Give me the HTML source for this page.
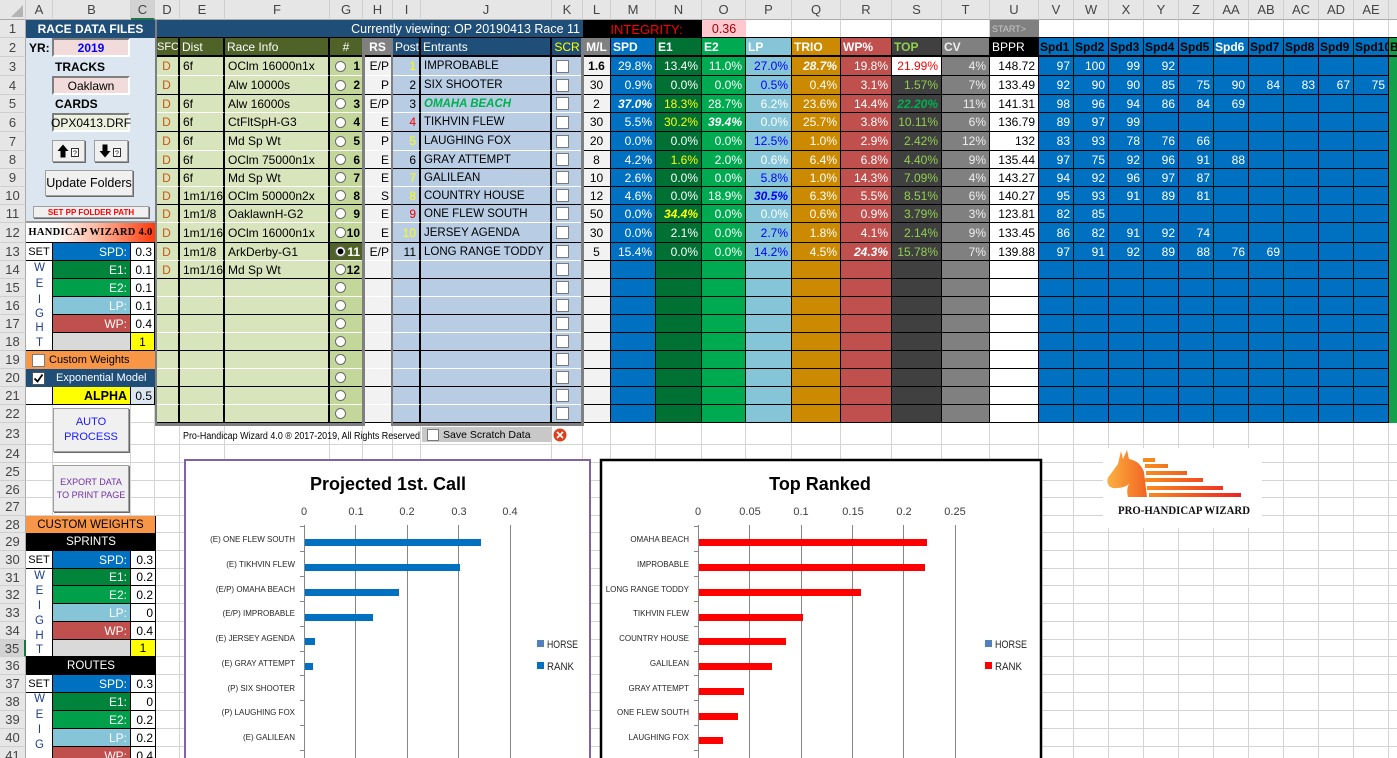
<!DOCTYPE html>
<html><head><meta charset="utf-8"><title>Pro-Handicap Wizard</title>
<style>
*{margin:0;padding:0;box-sizing:border-box}
html,body{width:1397px;height:758px;overflow:hidden}
body{position:relative;background:#fff;font-family:"Liberation Sans",Arial,sans-serif;font-size:12px;color:#000}
.a{position:absolute;white-space:nowrap;overflow:hidden}
.f{display:flex;align-items:center}
.ch{position:absolute;top:0;height:20px;background:#e6e6e6;color:#444;font-size:13px;display:flex;align-items:center;justify-content:center;border-right:1px solid #cfcfcf;border-bottom:1px solid #ababab;overflow:hidden}
.rn{position:absolute;left:0;width:26px;background:#e6e6e6;color:#444;font-size:13px;display:flex;align-items:center;justify-content:center;border-bottom:1px solid #cfcfcf;border-right:1px solid #ababab}
.r{position:absolute;left:155px;display:grid;grid-template-columns:25px 45px 105px 33px 30px 28px 131px 31px 28px 45px 46px 44px 46px 49px 51px 50px 48px 49px repeat(10,35px) 8px;grid-template-rows:100%}
.r>c{display:flex;align-items:center;overflow:hidden;white-space:nowrap;padding:0 3px;border-right:1px solid #000;border-bottom:1px solid #000;justify-content:flex-end;color:#fff;background:#0070c0;min-width:0}
.r>c:nth-child(1){background:#d8e4bc;color:#c55a11;justify-content:center;border-right-width:2px}
.r>c:nth-child(2),.r>c:nth-child(3){background:#d8e4bc;color:#000;justify-content:flex-start;border-right-width:2px}
.r>c:nth-child(4){background:#c4d79b;color:#000;font-weight:bold;justify-content:space-between;padding:0 2px 0 5px}
.r>c:nth-child(5){background:#f2f2f2;color:#000}
.r>c:nth-child(6){background:#b8cce4;color:#000;border-right-width:2px}
.r>c:nth-child(7){background:#b8cce4;color:#000;justify-content:flex-start;border-right-width:2px;font-size:11.5px}
.r>c:nth-child(8){background:#b8cce4;justify-content:flex-start;padding-left:4px}
.r>c:nth-child(9){background:#f2f2f2;color:#000;justify-content:center}
.r>c:nth-child(11){background:#007033}
.r>c:nth-child(12){background:#00aa50}
.r>c:nth-child(13){background:#86c5d8;color:#0000ff}
.r>c:nth-child(14){background:#cc8a00}
.r>c:nth-child(15){background:#c0504d}
.r>c:nth-child(16){background:#404040;color:#92d050}
.r>c:nth-child(17){background:#808080;color:#eee}
.r>c:nth-child(18){background:#fff;color:#000}
.r>c:nth-child(29){background:#12a04a;border:0;padding:0}
.o>c:nth-child(-n+8){border-bottom-color:#fff}
.r>c.bi{font-weight:bold;font-style:italic}
.r.h>c{color:#fff;justify-content:flex-start;border-top:1px solid #000;border-bottom:2px solid #000;padding:0 2px;font-weight:bold;background:#0070c0}
.h>c:nth-child(-n+4){background:#4f6228;font-weight:normal}
.h>c:nth-child(1){font-size:11px;padding:0 0 0 2px;justify-content:flex-start}
.h>c:nth-child(4){justify-content:center}
.h>c:nth-child(5),.h>c:nth-child(9),.h>c:nth-child(17){background:#808080;justify-content:center}
.h>c:nth-child(17){justify-content:flex-start;color:#eee}
.h>c:nth-child(6),.h>c:nth-child(7),.h>c:nth-child(8){background:#1f4e79;font-weight:normal;font-size:12px}
.h>c:nth-child(8){color:#ff0;justify-content:center}
.h>c:nth-child(11){background:#007033}
.h>c:nth-child(12){background:#00aa50}
.h>c:nth-child(13){background:#86c5d8}
.h>c:nth-child(14){background:#cc8a00}
.h>c:nth-child(15){background:#c0504d}
.h>c:nth-child(16){background:#404040;color:#92d050}
.h>c:nth-child(18){background:#000;font-weight:normal}
.h>c:nth-child(n+19){color:#000;padding:0 1px}
.h>c:nth-child(24){color:#fff}
.h>c:nth-child(29){background:#12a04a}
.rd{display:inline-block;width:11px;height:11px;border-radius:50%;background:#fff;border:1px solid #6a6a6a;flex:none}
.rd.on{background:radial-gradient(circle,#000 0,#000 2.6px,#fff 3.2px)}
.cb{display:inline-block;width:13px;height:13px;background:#fff;border:1px solid #7a7a7a;flex:none}
.box{position:absolute;display:flex;align-items:center;justify-content:center;border-top:2px solid #7f7f7f;border-left:2px solid #7f7f7f;border-right:2px solid #fff;border-bottom:2px solid #fff}
.btn{position:absolute;background:#f0f0f0;border:1px solid #a0a0a0;box-shadow:1px 1px 0 #6a6a6a;display:flex;align-items:center;justify-content:center;flex-direction:column;white-space:nowrap;text-align:center}
.wc{position:absolute;display:flex;align-items:center;justify-content:flex-end;padding:0 3px;border-right:1px solid #000;border-bottom:1px solid #000;white-space:nowrap;color:#fff}
.lt{position:absolute;left:26px;width:27px;text-align:center;color:#1f3f8f;font-size:11.5px;line-height:14px}
.g{position:absolute;background:#7f7f7f}
</style></head><body>

<svg class="a" style="left:0;top:0" width="1397" height="758"><path fill="none" stroke="#d4d4d4" stroke-width="1" d="M25.5 20V758M52.5 20V758M130.5 20V758M154.5 20V758M179.5 20V758M224.5 20V758M329.5 20V758M362.5 20V758M392.5 20V758M420.5 20V758M551.5 20V758M582.5 20V758M610.5 20V758M655.5 20V758M701.5 20V758M745.5 20V758M791.5 20V758M840.5 20V758M891.5 20V758M941.5 20V758M989.5 20V758M1038.5 20V758M1073.5 20V758M1108.5 20V758M1143.5 20V758M1178.5 20V758M1213.5 20V758M1248.5 20V758M1283.5 20V758M1318.5 20V758M1353.5 20V758M1388.5 20V758M26 37.5H1397M26 56.5H1397M26 75.5H1397M26 94.5H1397M26 112.5H1397M26 131.5H1397M26 150.5H1397M26 168.5H1397M26 186.5H1397M26 204.5H1397M26 222.5H1397M26 242.5H1397M26 260.5H1397M26 278.5H1397M26 296.5H1397M26 314.5H1397M26 332.5H1397M26 350.5H1397M26 368.5H1397M26 386.5H1397M26 404.5H1397M26 422.5H1397M26 444.5H1397M26 462.5H1397M26 480.5H1397M26 497.5H1397M26 515.5H1397M26 532.5H1397M26 550.5H1397M26 568.5H1397M26 585.5H1397M26 603.5H1397M26 621.5H1397M26 639.5H1397M26 656.5H1397M26 674.5H1397M26 692.5H1397M26 710.5H1397M26 728.5H1397M26 746.5H1397"/></svg>

<!-- column headers -->
<div class="ch" style="left:0;width:26px"><svg width="12" height="12" style="position:absolute;right:2px;bottom:2px"><path d="M12 0V12H0z" fill="#b4b4b4"/></svg></div>
<div class="ch" style="left:26px;width:27px">A</div>
<div class="ch" style="left:53px;width:78px">B</div>
<div class="ch" style="left:131px;width:24px;background:#d2d2d2;border-bottom:2px solid #217346">C</div>
<div class="ch" style="left:155px;width:25px">D</div>
<div class="ch" style="left:180px;width:45px">E</div>
<div class="ch" style="left:225px;width:105px">F</div>
<div class="ch" style="left:330px;width:33px">G</div>
<div class="ch" style="left:363px;width:30px">H</div>
<div class="ch" style="left:393px;width:28px">I</div>
<div class="ch" style="left:421px;width:131px">J</div>
<div class="ch" style="left:552px;width:31px">K</div>
<div class="ch" style="left:583px;width:28px">L</div>
<div class="ch" style="left:611px;width:45px">M</div>
<div class="ch" style="left:656px;width:46px">N</div>
<div class="ch" style="left:702px;width:44px">O</div>
<div class="ch" style="left:746px;width:46px">P</div>
<div class="ch" style="left:792px;width:49px">Q</div>
<div class="ch" style="left:841px;width:51px">R</div>
<div class="ch" style="left:892px;width:50px">S</div>
<div class="ch" style="left:942px;width:48px">T</div>
<div class="ch" style="left:990px;width:49px">U</div>
<div class="ch" style="left:1039px;width:35px">V</div>
<div class="ch" style="left:1074px;width:35px">W</div>
<div class="ch" style="left:1109px;width:35px">X</div>
<div class="ch" style="left:1144px;width:35px">Y</div>
<div class="ch" style="left:1179px;width:35px">Z</div>
<div class="ch" style="left:1214px;width:35px">AA</div>
<div class="ch" style="left:1249px;width:35px">AB</div>
<div class="ch" style="left:1284px;width:35px">AC</div>
<div class="ch" style="left:1319px;width:35px">AD</div>
<div class="ch" style="left:1354px;width:35px">AE</div>
<div class="ch" style="left:1389px;width:8px;border-right:0"></div>

<!-- row numbers -->
<div class="rn" style="top:20px;height:18px">1</div>
<div class="rn" style="top:38px;height:19px">2</div>
<div class="rn" style="top:57px;height:19px">3</div>
<div class="rn" style="top:76px;height:19px">4</div>
<div class="rn" style="top:95px;height:18px">5</div>
<div class="rn" style="top:113px;height:19px">6</div>
<div class="rn" style="top:132px;height:19px">7</div>
<div class="rn" style="top:151px;height:18px">8</div>
<div class="rn" style="top:169px;height:18px">9</div>
<div class="rn" style="top:187px;height:18px">10</div>
<div class="rn" style="top:205px;height:18px">11</div>
<div class="rn" style="top:223px;height:20px">12</div>
<div class="rn" style="top:243px;height:18px">13</div>
<div class="rn" style="top:261px;height:18px">14</div>
<div class="rn" style="top:279px;height:18px">15</div>
<div class="rn" style="top:297px;height:18px">16</div>
<div class="rn" style="top:315px;height:18px">17</div>
<div class="rn" style="top:333px;height:18px">18</div>
<div class="rn" style="top:351px;height:18px">19</div>
<div class="rn" style="top:369px;height:18px">20</div>
<div class="rn" style="top:387px;height:18px">21</div>
<div class="rn" style="top:405px;height:18px">22</div>
<div class="rn" style="top:423px;height:22px">23</div>
<div class="rn" style="top:445px;height:18px">24</div>
<div class="rn" style="top:463px;height:18px">25</div>
<div class="rn" style="top:481px;height:17px">26</div>
<div class="rn" style="top:498px;height:18px">27</div>
<div class="rn" style="top:516px;height:17px">28</div>
<div class="rn" style="top:533px;height:18px">29</div>
<div class="rn" style="top:551px;height:18px">30</div>
<div class="rn" style="top:569px;height:17px">31</div>
<div class="rn" style="top:586px;height:18px">32</div>
<div class="rn" style="top:604px;height:18px">33</div>
<div class="rn" style="top:622px;height:18px">34</div>
<div class="rn" style="top:640px;height:17px;background:#d2d2d2;border-right:2px solid #217346">35</div>
<div class="rn" style="top:657px;height:18px">36</div>
<div class="rn" style="top:675px;height:18px">37</div>
<div class="rn" style="top:693px;height:18px">38</div>
<div class="rn" style="top:711px;height:18px">39</div>
<div class="rn" style="top:729px;height:18px">40</div>
<div class="rn" style="top:747px;height:18px">41</div>

<!-- left panel -->
<div class="a" style="left:26px;top:20px;width:129px;height:202px;background:#dce6f1"></div>
<div class="a f" style="left:26px;top:20px;width:129px;height:18px;background:#1f4e79;color:#fff;font-weight:bold;justify-content:center">RACE DATA FILES</div>
<div class="a f" style="left:29px;top:38px;height:19px;font-weight:bold">YR:</div>
<div class="box" style="left:52px;top:38px;width:78px;height:19px;background:#f2dcdb;color:#0000ff;font-weight:bold">2019</div>
<div class="a f" style="left:55px;top:57px;height:19px;font-weight:bold">TRACKS</div>
<div class="box" style="left:52px;top:76px;width:78px;height:19px;background:#f2dcdb">Oaklawn</div>
<div class="a f" style="left:55px;top:95px;height:18px;font-weight:bold">CARDS</div>
<div class="box" style="left:52px;top:113px;width:78px;height:19px;background:#ebf1de">OPX0413.DRF</div>
<div class="btn" style="left:52px;top:140px;width:33px;height:22px"><svg width="24" height="14"><path d="M6 0.5l5.5 6.5H8.5v6.5h-5V7H0.5z" fill="#000"/><rect x="14.5" y="4.5" width="7" height="8" fill="#fff" stroke="#333"/><text x="18" y="11.5" font-size="7" text-anchor="middle" font-family="Liberation Sans, sans-serif">?</text></svg></div>
<div class="btn" style="left:94px;top:140px;width:34px;height:22px"><svg width="24" height="14"><path d="M6 13.5l5.5-6.5H8.5V0.5h-5V7H0.5z" fill="#000"/><rect x="14.5" y="4.5" width="7" height="8" fill="#fff" stroke="#333"/><text x="18" y="11.5" font-size="7" text-anchor="middle" font-family="Liberation Sans, sans-serif">?</text></svg></div>
<div class="btn" style="left:45px;top:170px;width:88px;height:26px;font-size:12.5px">Update Folders</div>
<div class="btn" style="left:33px;top:206px;width:116px;height:12px;font-size:8px;font-weight:bold;color:#ff0000">SET PP FOLDER PATH</div>
<div class="a" style="left:26px;top:221px;width:129px;height:2px;background:#9a9a9a"></div>
<div class="a f" style="left:26px;top:223px;width:129px;height:20px;background:linear-gradient(90deg,#fff 0%,#fff 22%,#ffb8a0 55%,#ff3a0a 100%);justify-content:center;font-family:'Liberation Serif',serif;font-weight:bold;font-size:10.5px;letter-spacing:0.3px;border-bottom:1px solid #000">HANDICAP WIZARD 4.0</div>

<!-- weights table 1 -->
<div class="wc" style="left:26px;top:243px;width:27px;height:18px;background:#fff;color:#000;justify-content:center;font-size:11px;padding:0">SET</div>
<div class="wc" style="left:26px;top:261px;width:27px;height:90px;background:#fff"></div>
<div class="lt" style="top:261px">W</div><div class="lt" style="top:277px">E</div><div class="lt" style="top:293px">I</div><div class="lt" style="top:307px">G</div><div class="lt" style="top:321px">H</div><div class="lt" style="top:336px">T</div>
<div class="wc" style="left:53px;top:243px;width:78px;height:18px;background:#0070c0">SPD:</div>
<div class="wc" style="left:53px;top:261px;width:78px;height:18px;background:#00843c">E1:</div>
<div class="wc" style="left:53px;top:279px;width:78px;height:18px;background:#00a04b">E2:</div>
<div class="wc" style="left:53px;top:297px;width:78px;height:18px;background:#86c5d8">LP:</div>
<div class="wc" style="left:53px;top:315px;width:78px;height:18px;background:#c0504d">WP:</div>
<div class="wc" style="left:53px;top:333px;width:78px;height:18px;background:#d9d9d9"></div>
<div class="wc" style="left:131px;top:243px;width:24px;height:18px;background:#fff;color:#000;padding:0 2px">0.3</div>
<div class="wc" style="left:131px;top:261px;width:24px;height:18px;background:#fff;color:#000;padding:0 2px">0.1</div>
<div class="wc" style="left:131px;top:279px;width:24px;height:18px;background:#fff;color:#000;padding:0 2px">0.1</div>
<div class="wc" style="left:131px;top:297px;width:24px;height:18px;background:#fff;color:#000;padding:0 2px">0.1</div>
<div class="wc" style="left:131px;top:315px;width:24px;height:18px;background:#fff;color:#000;padding:0 2px">0.4</div>
<div class="wc" style="left:131px;top:333px;width:24px;height:18px;background:#ff0;color:#000;justify-content:center;padding:0">1</div>
<div class="a f" style="left:26px;top:351px;width:129px;height:18px;background:#f79646;padding-left:6px;font-size:11px"><i class="cb" style="margin-right:4px"></i>Custom Weights</div>
<div class="a f" style="left:26px;top:369px;width:129px;height:18px;background:#1f4e79;color:#fff;padding-left:6px;font-size:11px"><svg width="13" height="13"><rect x=".5" y=".5" width="12" height="12" fill="#fff" stroke="#555"/><path d="M2.5 6.5l3 3 5-7" stroke="#000" stroke-width="1.8" fill="none"/></svg><span style="margin-left:11px">Exponential Model</span></div>
<div class="wc" style="left:26px;top:387px;width:27px;height:18px;background:#fff"></div>
<div class="wc" style="left:53px;top:387px;width:78px;height:18px;background:#ff0;color:#000;font-weight:bold;font-size:12.5px">ALPHA</div>
<div class="wc" style="left:131px;top:387px;width:24px;height:18px;background:#dce6f1;color:#000;padding:0 2px">0.5</div>

<div class="btn" style="left:53px;top:408px;width:76px;height:44px;color:#1a1aff;font-size:11px;line-height:15px">AUTO<br>PROCESS</div>
<div class="btn" style="left:53px;top:465px;width:76px;height:47px;color:#7030a0;font-size:9px;line-height:13px">EXPORT DATA<br>TO PRINT PAGE</div>

<!-- custom weights -->
<div class="a f" style="left:26px;top:516px;width:130px;height:17px;background:#f79646;justify-content:center;font-size:11.5px;border-right:1px solid #000">CUSTOM WEIGHTS</div>
<div class="a f" style="left:26px;top:533px;width:130px;height:18px;background:#000;color:#fff;justify-content:center;font-size:11.5px">SPRINTS</div>
<div class="wc" style="left:26px;top:551px;width:27px;height:18px;background:#fff;color:#000;justify-content:center;font-size:11px;padding:0">SET</div>
<div class="wc" style="left:26px;top:569px;width:27px;height:88px;background:#fff"></div>
<div class="lt" style="top:569px">W</div><div class="lt" style="top:584px">E</div><div class="lt" style="top:599px">I</div><div class="lt" style="top:614px">G</div><div class="lt" style="top:629px">H</div><div class="lt" style="top:643px">T</div>
<div class="wc" style="left:53px;top:551px;width:78px;height:18px;background:#0070c0">SPD:</div>
<div class="wc" style="left:53px;top:569px;width:78px;height:17px;background:#00843c">E1:</div>
<div class="wc" style="left:53px;top:586px;width:78px;height:18px;background:#00a04b">E2:</div>
<div class="wc" style="left:53px;top:604px;width:78px;height:18px;background:#86c5d8">LP:</div>
<div class="wc" style="left:53px;top:622px;width:78px;height:18px;background:#c0504d">WP:</div>
<div class="wc" style="left:53px;top:640px;width:78px;height:17px;background:#d9d9d9"></div>
<div class="wc" style="left:131px;top:551px;width:25px;height:18px;background:#fff;color:#000;padding:0 2px">0.3</div>
<div class="wc" style="left:131px;top:569px;width:25px;height:17px;background:#fff;color:#000;padding:0 2px">0.2</div>
<div class="wc" style="left:131px;top:586px;width:25px;height:18px;background:#fff;color:#000;padding:0 2px">0.2</div>
<div class="wc" style="left:131px;top:604px;width:25px;height:18px;background:#fff;color:#000;padding:0 2px">0</div>
<div class="wc" style="left:131px;top:622px;width:25px;height:18px;background:#fff;color:#000;padding:0 2px">0.4</div>
<div class="wc" style="left:131px;top:640px;width:25px;height:17px;background:#ff0;color:#000;justify-content:center;padding:0">1</div>
<div class="a f" style="left:26px;top:657px;width:130px;height:18px;background:#000;color:#fff;justify-content:center;font-size:11.5px">ROUTES</div>
<div class="wc" style="left:26px;top:675px;width:27px;height:18px;background:#fff;color:#000;justify-content:center;font-size:11px;padding:0">SET</div>
<div class="wc" style="left:26px;top:693px;width:27px;height:70px;background:#fff"></div>
<div class="lt" style="top:692px">W</div><div class="lt" style="top:708px">E</div><div class="lt" style="top:723px">I</div><div class="lt" style="top:738px">G</div>
<div class="wc" style="left:53px;top:675px;width:78px;height:18px;background:#0070c0">SPD:</div>
<div class="wc" style="left:53px;top:693px;width:78px;height:18px;background:#00843c">E1:</div>
<div class="wc" style="left:53px;top:711px;width:78px;height:18px;background:#00a04b">E2:</div>
<div class="wc" style="left:53px;top:729px;width:78px;height:18px;background:#86c5d8">LP:</div>
<div class="wc" style="left:53px;top:747px;width:78px;height:18px;background:#c0504d">WP:</div>
<div class="wc" style="left:131px;top:675px;width:25px;height:18px;background:#fff;color:#000;padding:0 2px">0.3</div>
<div class="wc" style="left:131px;top:693px;width:25px;height:18px;background:#fff;color:#000;padding:0 2px">0</div>
<div class="wc" style="left:131px;top:711px;width:25px;height:18px;background:#fff;color:#000;padding:0 2px">0.2</div>
<div class="wc" style="left:131px;top:729px;width:25px;height:18px;background:#fff;color:#000;padding:0 2px">0.2</div>
<div class="wc" style="left:131px;top:747px;width:25px;height:18px;background:#fff;color:#000;padding:0 2px">0.4</div>

<!-- row 1 -->
<div class="a f" style="left:157px;top:20px;width:426px;height:18px;background:#1f4e79;color:#fff;justify-content:flex-end;padding-right:3px;font-size:12.5px">Currently viewing: OP 20190413 Race 11</div>
<div class="a f" style="left:583px;top:20px;width:119px;height:18px;background:#000;color:#ff0000;justify-content:center;font-size:13px;padding-left:8px">INTEGRITY:</div>
<div class="a f" style="left:702px;top:20px;width:44px;height:18px;background:#ffc7ce;color:#9c0006;justify-content:center;font-size:12.5px">0.36</div>
<div class="a f" style="left:990px;top:20px;width:49px;height:18px;background:#808080;color:#c8c8c8;font-size:9px;padding-left:2px">START&gt;</div>

<!-- header row 2 -->
<div class="r h" style="top:37px;height:20px"><c>SFC</c><c>Dist</c><c>Race Info</c><c>#</c><c>RS</c><c>Post</c><c>Entrants</c><c>SCR</c><c>M/L</c><c>SPD</c><c>E1</c><c>E2</c><c>LP</c><c>TRIO</c><c>WP%</c><c>TOP</c><c>CV</c><c>BPPR</c><c>Spd1</c><c>Spd2</c><c>Spd3</c><c>Spd4</c><c>Spd5</c><c>Spd6</c><c>Spd7</c><c>Spd8</c><c>Spd9</c><c>Spd10</c><c>B</c></div>

<!-- data rows -->
<div class="r o" style="top:57px;height:19px"><c>D</c><c>6f</c><c>OClm 16000n1x</c><c><i class="rd"></i>1</c><c>E/P</c><c style="color:#ff0">1</c><c>IMPROBABLE</c><c><i class="cb"></i></c><c style="font-weight:bold">1.6</c><c>29.8%</c><c>13.4%</c><c>11.0%</c><c>27.0%</c><c class="bi">28.7%</c><c>19.8%</c><c style="background:#fff;color:#f00">21.99%</c><c>4%</c><c>148.72</c><c>97</c><c>100</c><c>99</c><c>92</c><c></c><c></c><c></c><c></c><c></c><c></c><c></c></div>
<div class="r" style="top:76px;height:19px"><c>D</c><c></c><c>Alw 10000s</c><c><i class="rd"></i>2</c><c>P</c><c>2</c><c>SIX SHOOTER</c><c><i class="cb"></i></c><c>30</c><c>0.9%</c><c>0.0%</c><c>0.0%</c><c>0.5%</c><c>0.4%</c><c>3.1%</c><c>1.57%</c><c>7%</c><c>133.49</c><c>92</c><c>90</c><c>90</c><c>85</c><c>75</c><c>90</c><c>84</c><c>83</c><c>67</c><c>75</c><c></c></div>
<div class="r o" style="top:95px;height:18px"><c>D</c><c>6f</c><c>Alw 16000s</c><c><i class="rd"></i>3</c><c>E/P</c><c>3</c><c class="bi" style="color:#00b050">OMAHA BEACH</c><c><i class="cb"></i></c><c>2</c><c class="bi">37.0%</c><c style="color:#ff0">18.3%</c><c>28.7%</c><c style="color:#fff">6.2%</c><c>23.6%</c><c>14.4%</c><c class="bi" style="color:#00b050">22.20%</c><c>11%</c><c>141.31</c><c>98</c><c>96</c><c>94</c><c>86</c><c>84</c><c>69</c><c></c><c></c><c></c><c></c><c></c></div>
<div class="r" style="top:113px;height:19px"><c>D</c><c>6f</c><c>CtFltSpH-G3</c><c><i class="rd"></i>4</c><c>E</c><c style="color:#f00">4</c><c>TIKHVIN FLEW</c><c><i class="cb"></i></c><c>30</c><c>5.5%</c><c style="color:#ff0">30.2%</c><c class="bi">39.4%</c><c style="color:#fff">0.0%</c><c>25.7%</c><c>3.8%</c><c>10.11%</c><c>6%</c><c>136.79</c><c>89</c><c>97</c><c>99</c><c></c><c></c><c></c><c></c><c></c><c></c><c></c><c></c></div>
<div class="r o" style="top:132px;height:19px"><c>D</c><c>6f</c><c>Md Sp Wt</c><c><i class="rd"></i>5</c><c>P</c><c style="color:#ff0">5</c><c>LAUGHING FOX</c><c><i class="cb"></i></c><c>20</c><c>0.0%</c><c>0.0%</c><c>0.0%</c><c>12.5%</c><c>1.0%</c><c>2.9%</c><c>2.42%</c><c>12%</c><c>132</c><c>83</c><c>93</c><c>78</c><c>76</c><c>66</c><c></c><c></c><c></c><c></c><c></c><c></c></div>
<div class="r" style="top:151px;height:18px"><c>D</c><c>6f</c><c>OClm 75000n1x</c><c><i class="rd"></i>6</c><c>E</c><c>6</c><c>GRAY ATTEMPT</c><c><i class="cb"></i></c><c>8</c><c>4.2%</c><c style="color:#ff0">1.6%</c><c>2.0%</c><c style="color:#fff">0.6%</c><c>6.4%</c><c>6.8%</c><c>4.40%</c><c>9%</c><c>135.44</c><c>97</c><c>75</c><c>92</c><c>96</c><c>91</c><c>88</c><c></c><c></c><c></c><c></c><c></c></div>
<div class="r o" style="top:169px;height:18px"><c>D</c><c>6f</c><c>Md Sp Wt</c><c><i class="rd"></i>7</c><c>E</c><c style="color:#ff0">7</c><c>GALILEAN</c><c><i class="cb"></i></c><c>10</c><c>2.6%</c><c>0.0%</c><c>0.0%</c><c>5.8%</c><c>1.0%</c><c>14.3%</c><c>7.09%</c><c>4%</c><c>143.27</c><c>94</c><c>92</c><c>96</c><c>97</c><c>87</c><c></c><c></c><c></c><c></c><c></c><c></c></div>
<div class="r" style="top:187px;height:18px"><c>D</c><c>1m1/16</c><c>OClm 50000n2x</c><c><i class="rd"></i>8</c><c>S</c><c style="color:#ff0">8</c><c>COUNTRY HOUSE</c><c><i class="cb"></i></c><c>12</c><c>4.6%</c><c>0.0%</c><c>18.9%</c><c class="bi">30.5%</c><c>6.3%</c><c>5.5%</c><c>8.51%</c><c>6%</c><c>140.27</c><c>95</c><c>93</c><c>91</c><c>89</c><c>81</c><c></c><c></c><c></c><c></c><c></c><c></c></div>
<div class="r o" style="top:205px;height:18px"><c>D</c><c>1m1/8</c><c>OaklawnH-G2</c><c><i class="rd"></i>9</c><c>E</c><c style="color:#f00">9</c><c>ONE FLEW SOUTH</c><c><i class="cb"></i></c><c>50</c><c>0.0%</c><c class="bi" style="color:#ff0">34.4%</c><c>0.0%</c><c style="color:#fff">0.0%</c><c>0.6%</c><c>0.9%</c><c>3.79%</c><c>3%</c><c>123.81</c><c>82</c><c>85</c><c></c><c></c><c></c><c></c><c></c><c></c><c></c><c></c><c></c></div>
<div class="r" style="top:223px;height:20px"><c>D</c><c>1m1/16</c><c>OClm 16000n1x</c><c><i class="rd"></i>10</c><c>E</c><c style="color:#ff0">10</c><c>JERSEY AGENDA</c><c><i class="cb"></i></c><c>30</c><c>0.0%</c><c>2.1%</c><c>0.0%</c><c>2.7%</c><c>1.8%</c><c>4.1%</c><c>2.14%</c><c>9%</c><c>133.45</c><c>86</c><c>82</c><c>91</c><c>92</c><c>74</c><c></c><c></c><c></c><c></c><c></c><c></c></div>
<div class="r o" style="top:243px;height:18px"><c>D</c><c>1m1/8</c><c>ArkDerby-G1</c><c style="background:#4f6228;color:#fff"><i class="rd on"></i>11</c><c>E/P</c><c>11</c><c>LONG RANGE TODDY</c><c><i class="cb"></i></c><c>5</c><c>15.4%</c><c>0.0%</c><c>0.0%</c><c>14.2%</c><c>4.5%</c><c class="bi">24.3%</c><c>15.78%</c><c>7%</c><c>139.88</c><c>97</c><c>91</c><c>92</c><c>89</c><c>88</c><c>76</c><c>69</c><c></c><c></c><c></c><c></c></div>
<div class="r" style="top:261px;height:18px"><c>D</c><c>1m1/16</c><c>Md Sp Wt</c><c><i class="rd"></i>12</c><c></c><c></c><c></c><c><i class="cb"></i></c><c></c><c></c><c></c><c></c><c></c><c></c><c></c><c></c><c></c><c></c><c></c><c></c><c></c><c></c><c></c><c></c><c></c><c></c><c></c><c></c><c></c></div>
<div class="r o" style="top:279px;height:18px"><c></c><c></c><c></c><c><i class="rd"></i></c><c></c><c></c><c></c><c><i class="cb"></i></c><c></c><c></c><c></c><c></c><c></c><c></c><c></c><c></c><c></c><c></c><c></c><c></c><c></c><c></c><c></c><c></c><c></c><c></c><c></c><c></c><c></c></div>
<div class="r" style="top:297px;height:18px"><c></c><c></c><c></c><c><i class="rd"></i></c><c></c><c></c><c></c><c><i class="cb"></i></c><c></c><c></c><c></c><c></c><c></c><c></c><c></c><c></c><c></c><c></c><c></c><c></c><c></c><c></c><c></c><c></c><c></c><c></c><c></c><c></c><c></c></div>
<div class="r o" style="top:315px;height:18px"><c></c><c></c><c></c><c><i class="rd"></i></c><c></c><c></c><c></c><c><i class="cb"></i></c><c></c><c></c><c></c><c></c><c></c><c></c><c></c><c></c><c></c><c></c><c></c><c></c><c></c><c></c><c></c><c></c><c></c><c></c><c></c><c></c><c></c></div>
<div class="r" style="top:333px;height:18px"><c></c><c></c><c></c><c><i class="rd"></i></c><c></c><c></c><c></c><c><i class="cb"></i></c><c></c><c></c><c></c><c></c><c></c><c></c><c></c><c></c><c></c><c></c><c></c><c></c><c></c><c></c><c></c><c></c><c></c><c></c><c></c><c></c><c></c></div>
<div class="r o" style="top:351px;height:18px"><c></c><c></c><c></c><c><i class="rd"></i></c><c></c><c></c><c></c><c><i class="cb"></i></c><c></c><c></c><c></c><c></c><c></c><c></c><c></c><c></c><c></c><c></c><c></c><c></c><c></c><c></c><c></c><c></c><c></c><c></c><c></c><c></c><c></c></div>
<div class="r" style="top:369px;height:18px"><c></c><c></c><c></c><c><i class="rd"></i></c><c></c><c></c><c></c><c><i class="cb"></i></c><c></c><c></c><c></c><c></c><c></c><c></c><c></c><c></c><c></c><c></c><c></c><c></c><c></c><c></c><c></c><c></c><c></c><c></c><c></c><c></c><c></c></div>
<div class="r o" style="top:387px;height:18px"><c></c><c></c><c></c><c><i class="rd"></i></c><c></c><c></c><c></c><c><i class="cb"></i></c><c></c><c></c><c></c><c></c><c></c><c></c><c></c><c></c><c></c><c></c><c></c><c></c><c></c><c></c><c></c><c></c><c></c><c></c><c></c><c></c><c></c></div>
<div class="r" style="top:405px;height:18px"><c></c><c></c><c></c><c><i class="rd"></i></c><c></c><c></c><c></c><c><i class="cb"></i></c><c></c><c></c><c></c><c></c><c></c><c></c><c></c><c></c><c></c><c></c><c></c><c></c><c></c><c></c><c></c><c></c><c></c><c></c><c></c><c></c><c></c></div>

<!-- gray frames -->
<div class="g" style="left:155px;top:20px;width:2px;height:406px"></div>
<div class="g" style="left:362px;top:38px;width:3px;height:388px"></div>
<div class="g" style="left:391px;top:38px;width:2px;height:388px"></div>
<div class="g" style="left:581px;top:38px;width:3px;height:388px"></div>
<div class="g" style="left:155px;top:423px;width:210px;height:3px"></div>
<div class="g" style="left:391px;top:423px;width:193px;height:3px"></div>

<!-- footer controls -->
<div class="a f" style="left:422px;top:427px;width:130px;height:15px;background:#c8c8c8;padding-left:5px;font-size:10.5px"><i class="cb" style="width:12px;height:12px;margin-right:4px"></i>Save Scratch Data</div>

<svg class="a" style="left:0;top:0" width="1397" height="758" font-family="Liberation Sans, Arial, sans-serif">
<text x="183" y="439" font-size="10" textLength="237" lengthAdjust="spacingAndGlyphs">Pro-Handicap Wizard 4.0 ® 2017-2019, All Rights Reserved</text>
<circle cx="560" cy="435" r="6.5" fill="#d9411e"/><path d="M557 432l6 6M563 432l-6 6" stroke="#fff" stroke-width="1.6"/>

<!-- Chart 1 -->
<rect x="185" y="460" width="405" height="310" fill="#fff" stroke="#8064a2" stroke-width="2"/>
<text x="388" y="490" font-size="18" font-weight="bold" text-anchor="middle" fill="#000">Projected 1st. Call</text>
<g font-size="11" fill="#404040" text-anchor="middle"><text x="304" y="515">0</text><text x="356" y="515">0.1</text><text x="407" y="515">0.2</text><text x="459" y="515">0.3</text><text x="510" y="515">0.4</text></g>
<path fill="none" stroke="#868686" d="M304.5 525V760M355.5 525V760M407.5 525V760M458.5 525V760M510.5 525V760M300 526.5H304M300 551.5H304M300 576.5H304M300 601.5H304M300 626.5H304M300 651.5H304M300 675.5H304M300 700.5H304M300 725.5H304M300 750.5H304"/>
<g font-size="8" fill="#262626" text-anchor="end"><text x="295" y="542">(E) ONE FLEW SOUTH</text><text x="295" y="567">(E) TIKHVIN FLEW</text><text x="295" y="592">(E/P) OMAHA BEACH</text><text x="295" y="616">(E/P) IMPROBABLE</text><text x="295" y="641">(E) JERSEY AGENDA</text><text x="295" y="666">(E) GRAY ATTEMPT</text><text x="295" y="691">(P) SIX SHOOTER</text><text x="295" y="715">(P) LAUGHING FOX</text><text x="295" y="740">(E) GALILEAN</text></g>
<g fill="#0070c0"><rect x="305" y="539" width="176" height="7"/><rect x="305" y="564" width="155" height="7"/><rect x="305" y="589" width="94" height="7"/><rect x="305" y="614" width="68" height="7"/><rect x="305" y="638" width="10" height="7"/><rect x="305" y="663" width="8" height="7"/></g>
<rect x="537" y="640" width="7" height="7" fill="#4f81bd"/><text x="547" y="648" font-size="11" fill="#262626" textLength="31" lengthAdjust="spacingAndGlyphs">HORSE</text>
<rect x="537" y="662" width="7" height="7" fill="#0070c0"/><text x="547" y="670" font-size="11" fill="#262626" textLength="27" lengthAdjust="spacingAndGlyphs">RANK</text>

<!-- Chart 2 -->
<rect x="601" y="460" width="440" height="310" fill="#fff" stroke="#000" stroke-width="2.5"/>
<text x="820" y="490" font-size="18" font-weight="bold" text-anchor="middle" fill="#000">Top Ranked</text>
<g font-size="11" fill="#404040" text-anchor="middle"><text x="698" y="515">0</text><text x="750" y="515">0.05</text><text x="801" y="515">0.1</text><text x="853" y="515">0.15</text><text x="904" y="515">0.2</text><text x="955" y="515">0.25</text></g>
<path fill="none" stroke="#868686" d="M698.5 525V760M749.5 525V760M801.5 525V760M852.5 525V760M903.5 525V760M955.5 525V760M694 526.5H698M694 551.5H698M694 576.5H698M694 601.5H698M694 626.5H698M694 651.5H698M694 675.5H698M694 700.5H698M694 725.5H698M694 750.5H698"/>
<g font-size="8" fill="#262626" text-anchor="end"><text x="689" y="542">OMAHA BEACH</text><text x="689" y="567">IMPROBABLE</text><text x="689" y="592">LONG RANGE TODDY</text><text x="689" y="616">TIKHVIN FLEW</text><text x="689" y="641">COUNTRY HOUSE</text><text x="689" y="666">GALILEAN</text><text x="689" y="691">GRAY ATTEMPT</text><text x="689" y="715">ONE FLEW SOUTH</text><text x="689" y="740">LAUGHING FOX</text></g>
<g fill="#ff0000"><rect x="699" y="539" width="228" height="7"/><rect x="699" y="564" width="226" height="7"/><rect x="699" y="589" width="162" height="7"/><rect x="699" y="614" width="104" height="7"/><rect x="699" y="638" width="87" height="7"/><rect x="699" y="663" width="73" height="7"/><rect x="699" y="688" width="45" height="7"/><rect x="699" y="713" width="39" height="7"/><rect x="699" y="737" width="24" height="7"/></g>
<rect x="985" y="640" width="7" height="7" fill="#4f81bd"/><text x="995" y="648" font-size="11" fill="#262626" textLength="32" lengthAdjust="spacingAndGlyphs">HORSE</text>
<rect x="985" y="662" width="7" height="7" fill="#ff0000"/><text x="995" y="670" font-size="11" fill="#262626" textLength="27" lengthAdjust="spacingAndGlyphs">RANK</text>

<!-- Logo -->
<defs>
<linearGradient id="lg" gradientUnits="userSpaceOnUse" x1="1140" y1="0" x2="1245" y2="0"><stop offset="0" stop-color="#f7941d"/><stop offset="1" stop-color="#ed1c24"/></linearGradient>
<linearGradient id="hg" x1="0" y1="0" x2="1" y2="0"><stop offset="0" stop-color="#fbb040"/><stop offset="1" stop-color="#f26522"/></linearGradient>
</defs>
<rect x="1103" y="448" width="159" height="80" fill="#fff"/>
<g fill="url(#lg)"><rect x="1143" y="458" width="12" height="4"/><rect x="1145" y="464" width="23" height="4"/><rect x="1146" y="471" width="41" height="4"/><rect x="1145" y="478" width="58" height="4"/><rect x="1147" y="486" width="76" height="4"/><rect x="1149" y="493" width="92" height="4"/></g>
<path d="M1121 451L1123 459L1127 450L1129 459Q1140 461 1144 472L1147 497L1128 497Q1126 490 1129 484Q1124 488 1117 488Q1110 489 1108 484Q1106 479 1110 475L1118 464Z" fill="url(#hg)"/>
<text x="1118" y="514" font-family="Liberation Serif, serif" font-weight="bold" font-size="11.5" fill="#111" textLength="132" lengthAdjust="spacingAndGlyphs">PRO-HANDICAP WIZARD</text>
</svg>
</body></html>
